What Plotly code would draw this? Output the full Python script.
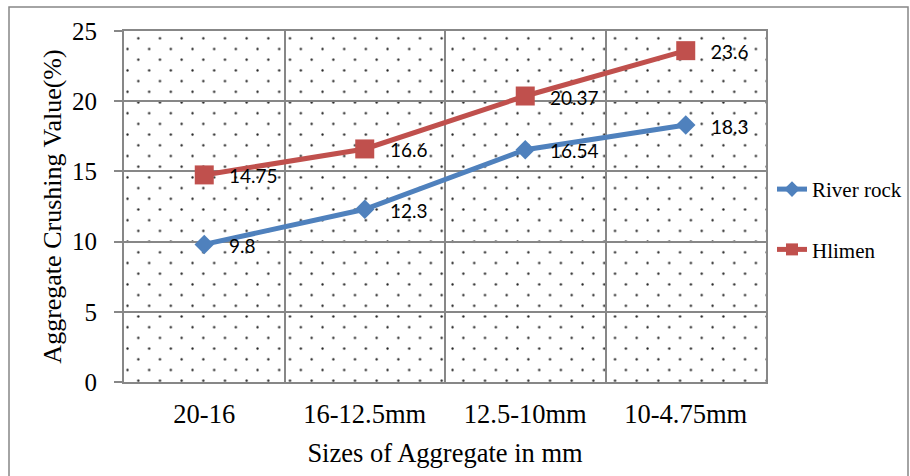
import base64
import plotly.graph_objects as go

# Aggregate crushing value by aggregate size range
sizes = ["20-16", "16-12.5mm", "12.5-10mm", "10-4.75mm"]
river_rock = [9.8, 12.3, 16.54, 18.3]
hlimen = [14.75, 16.6, 20.37, 23.6]
y_ticks = [0, 5, 10, 15, 20, 25]

W, H = 910, 476
ML, MR, MT, MB = 124, 144, 31, 94
PW, PH = W - ML - MR, H - MT - MB

BLUE = "#4F81BD"
RED = "#C0504D"
GREY = "#878787"
SERIF = "Liberation Serif, Times New Roman, serif"
SANS = "Lato, Carlito, Calibri, sans-serif"

# Staggered dot texture for the plotting area
svg = f"""<svg xmlns='http://www.w3.org/2000/svg' width='{PW}' height='{PH}' viewBox='0 0 {PW} {PH}' preserveAspectRatio='none'>
<defs><pattern id='d' patternUnits='userSpaceOnUse' width='21.67' height='21.4'>
<circle cx='14.3' cy='7.3' r='1.15' fill='#222'/>
<circle cx='3.5' cy='18.0' r='1.15' fill='#222'/>
</pattern></defs>
<rect x='0' y='0' width='{PW}' height='{PH}' fill='url(#d)'/>
</svg>"""
texture = "data:image/svg+xml;base64," + base64.b64encode(svg.encode()).decode()

x_idx = list(range(len(sizes)))

fig = go.Figure()
fig.add_trace(go.Scatter(
    x=x_idx, y=river_rock, name="River rock", mode="lines+markers",
    line=dict(color=BLUE, width=5),
    marker=dict(symbol="diamond", size=15, color=BLUE),
    legendgroup="a",
))
fig.add_trace(go.Scatter(
    x=x_idx, y=hlimen, name="Hlimen", mode="lines+markers",
    line=dict(color=RED, width=5),
    marker=dict(symbol="square", size=19, color=RED),
    legendgroup="b",
))

# Value labels to the right of each point
annotations = []
for series in (river_rock, hlimen):
    for i, v in zip(x_idx, series):
        annotations.append(dict(
            x=i, y=v, xref="x", yref="y", text=f"{v:g}", showarrow=False,
            xanchor="left", yanchor="middle", xshift=23, yshift=-1,
            font=dict(family=SANS, size=19, color="#000"),
        ))

fig.update_layout(
    width=W, height=H,
    margin=dict(l=ML, r=MR, t=MT, b=MB, pad=0, autoexpand=False),
    paper_bgcolor="white", plot_bgcolor="white",
    showlegend=True,
    legend=dict(
        x=1 + 6 / PW, xanchor="left", y=0.607, yanchor="top",
        font=dict(family=SERIF, size=21, color="#000"),
        bgcolor="rgba(0,0,0,0)", itemsizing="constant",
        tracegroupgap=30, traceorder="grouped",
    ),
    annotations=annotations,
    images=[dict(
        source=texture, xref="x domain", yref="y domain",
        x=0, y=1, sizex=1, sizey=1, xanchor="left", yanchor="top",
        sizing="stretch", layer="below",
    )],
    shapes=[dict(
        type="rect", xref="paper", yref="paper",
        x0=(9 - ML) / PW, x1=(908 - ML) / PW,
        y0=-(H + 5 - MT - PH) / PH, y1=1 + (MT - 7) / PH,
        line=dict(color=GREY, width=1.5), fillcolor="rgba(0,0,0,0)",
        layer="below",
    )],
)

fig.update_xaxes(
    range=[-0.5, len(sizes) - 0.5],
    tickvals=x_idx, ticktext=sizes, ticks="",
    tickfont=dict(family=SERIF, size=26.5, color="#000"),
    ticklabelstandoff=7,
    showgrid=False, zeroline=False,
    showline=True, mirror=True, linecolor=GREY, linewidth=2,
    minor=dict(tickvals=[i + 0.5 for i in x_idx[:-1]], showgrid=True,
               gridcolor=GREY, gridwidth=2, ticks=""),
    title=dict(text="Sizes of Aggregate in mm", standoff=16,
               font=dict(family=SERIF, size=26.5, color="#000")),
)
fig.update_yaxes(
    range=[0, 25], tickvals=y_ticks,
    ticks="outside", ticklen=8, tickcolor=GREY, tickwidth=2,
    tickfont=dict(family=SERIF, size=25, color="#000"),
    ticklabelstandoff=12,
    showgrid=True, gridcolor=GREY, gridwidth=2, zeroline=False,
    showline=True, mirror=True, linecolor=GREY, linewidth=2,
    title=dict(text="Aggregate Crushing Value(%)", standoff=3,
               font=dict(family=SERIF, size=26, color="#000")),
)

fig.write_html("out.html")
